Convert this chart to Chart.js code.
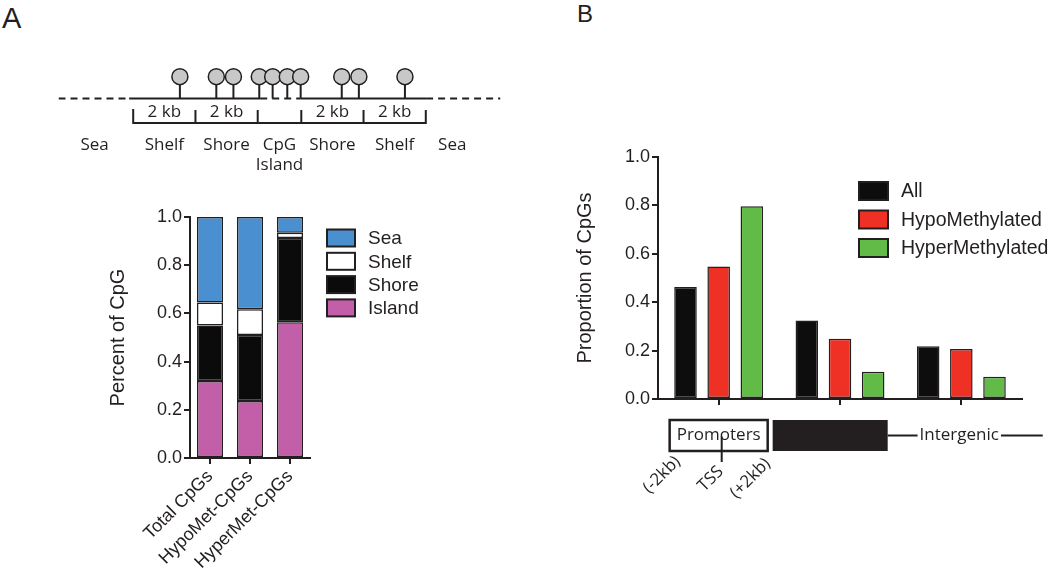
<!DOCTYPE html>
<html>
<head>
<meta charset="utf-8">
<script src="https://cdn.jsdelivr.net/npm/chart.js"></script>
<style>
  body { margin: 0; background: #fff; }
  #page { position: relative; width: 1050px; height: 574px; overflow: hidden; }
  canvas { position: absolute; }
  .panel { position: absolute; font-family: "Liberation Sans", Arial, sans-serif; line-height: 1; color: #231F20; }
</style>
</head>
<body>
<div id="page">
  <div class="panel" style="left:2px; top:4px; font-size:29px;">A</div>
  <div class="panel" style="left:577px; top:2px; font-size:24px;">B</div>
  <canvas id="cpgMap" width="461" height="123" style="left:49px; top:54px;"></canvas>
  <canvas id="regionBars" width="360" height="384" style="left:100px; top:190px;"></canvas>
  <canvas id="featureBars" width="510" height="444" style="left:540px; top:130px;"></canvas>
</div>
<script>
// Panel A map, positions in kb from the island centre
const regionNames = ["Sea", "Shelf", "Shore", ["CpG", "Island"], "Shore", "Shelf", "Sea"];
const regionCentres = [-5.94, -3.7, -1.7, 0, 1.7, 3.7, 5.55];
const regionBounds = [-4.7, -2.7, -0.7, 0.7, 2.7, 4.7];
const cpgSites = [-3.2, -2.03, -1.48, -0.65, -0.22, 0.25, 0.68, 2.0, 2.55, 4.03];
const backboneSolid = [[-4.83, -0.62], [0.68, 4.71]];
const backboneDashed = [[-7.1, -4.83], [-0.62, 0.68], [4.71, 7.1]];

// Panel A stacked bars
const cpgGroups = ["Total CpGs", "HypoMet-CpGs", "HyperMet-CpGs"];
const islandShare = [0.32, 0.237, 0.563];
const shoreShare = [0.23, 0.273, 0.35];
const shelfShare = [0.095, 0.107, 0.022];
const seaShare = [0.355, 0.383, 0.065];

// Panel B grouped bars
const featureLabels = ["Promoters", "Gene body", "Intergenic"];
const allCpGs = [0.463, 0.324, 0.218];
const hypoCpGs = [0.548, 0.249, 0.207];
const hyperCpGs = [0.797, 0.113, 0.092];

const ink = "#231F20";
Chart.defaults.animation = false;
Chart.defaults.font.family = "Liberation Sans";
Chart.defaults.color = ink;
Chart.defaults.plugins.legend.display = false;
Chart.defaults.plugins.tooltip.enabled = false;

// legend drawn next to the plot area
const boxLegend = {
    id: "boxLegend",
    afterDraw(chart, args, o) {
        const ctx = chart.ctx;
        const area = chart.chartArea;
        let sets = chart.data.datasets.slice();
        if (o.reverse) sets.reverse();
        ctx.save();
        ctx.font = o.font;
        ctx.textBaseline = "middle";
        sets.forEach((ds, i) => {
            const x = area.right + o.dx;
            const y = area.top + o.dy + i * o.step;
            ctx.fillStyle = ds.backgroundColor;
            ctx.fillRect(x, y - o.boxH / 2, o.boxW, o.boxH);
            ctx.lineWidth = 2;
            ctx.strokeStyle = ink;
            ctx.strokeRect(x, y - o.boxH / 2, o.boxW, o.boxH);
            ctx.fillStyle = ink;
            ctx.fillText(ds.label, x + o.boxW + o.gap, y + 1);
        });
        ctx.restore();
    }
};

const kbLabels = {
    id: "kbLabels",
    afterDatasetsDraw(chart, args, o) {
        const ctx = chart.ctx;
        ctx.save();
        ctx.font = o.font;
        ctx.fillStyle = ink;
        ctx.textAlign = "center";
        ctx.textBaseline = "middle";
        o.at.forEach(v => ctx.fillText(o.text, chart.scales.x.getPixelForValue(v), chart.scales.y.getPixelForValue(o.y)));
        ctx.restore();
    }
};

// promoter / gene body / intergenic track under panel B
const regionTrack = {
    id: "regionTrack",
    afterDraw(chart, args, o) {
        const ctx = chart.ctx;
        const labels = chart.data.labels;
        const px = v => chart.scales.x.getPixelForValue(v);
        const top = chart.chartArea.bottom + o.top;
        const bot = top + o.height;
        const mid = (top + bot) / 2;
        ctx.save();
        ctx.strokeStyle = ink;
        ctx.fillStyle = ink;
        ctx.lineWidth = 2.5;
        ctx.strokeRect(px(o.promoter[0]), top, px(o.promoter[1]) - px(o.promoter[0]), o.height);
        ctx.fillRect(px(o.gene[0]), top, px(o.gene[1]) - px(o.gene[0]), o.height);
        ctx.font = o.font;
        ctx.textAlign = "center";
        ctx.textBaseline = "middle";
        ctx.fillText(labels[0], px(0), mid);
        ctx.lineWidth = 2;
        ctx.beginPath();
        ctx.moveTo(px(o.tss), mid + 1);
        ctx.lineTo(px(o.tss), bot + o.stem);
        ctx.stroke();
        const w = ctx.measureText(labels[2]).width;
        const cx = px(o.interText);
        ctx.fillText(labels[2], cx, mid);
        ctx.beginPath();
        ctx.moveTo(px(o.gene[1]), mid);
        ctx.lineTo(cx - w / 2 - 2, mid);
        ctx.moveTo(cx + w / 2 + 2, mid);
        ctx.lineTo(px(o.interEnd), mid);
        ctx.stroke();
        ctx.font = o.smallFont;
        ctx.textAlign = "right";
        o.marks.forEach(m => {
            ctx.save();
            ctx.translate(px(m.at) + m.dx, bot + m.dy);
            ctx.rotate(-Math.PI / 4);
            ctx.fillText(m.text, 0, 0);
            ctx.restore();
        });
        ctx.restore();
    }
};

function segments(list, y) {
    const pts = [];
    list.forEach(([a, b]) => pts.push({x: a, y: y}, {x: b, y: y}, {x: b, y: null}));
    return pts;
}

const stems = [];
cpgSites.forEach(s => stems.push({x: s, y: 0}, {x: s, y: 1}, {x: s, y: null}));

const bracket = [];
regionBounds.forEach((b, i) => {
    bracket.push({x: b, y: -0.52}, {x: b, y: -1.12});
    if (i < regionBounds.length - 1) bracket.push({x: regionBounds[i + 1], y: -1.12});
});

const kbMids = [];
[0, 1, 3, 4].forEach(i => kbMids.push((regionBounds[i] + regionBounds[i + 1]) / 2));

const lineSet = {showLine: true, pointRadius: 0, borderColor: ink, borderWidth: 2, spanGaps: false, order: 1};

new Chart("cpgMap", {
    type: "scatter",
    data: {
        datasets: [
            {data: cpgSites.map(s => ({x: s, y: 1})), pointRadius: 8, backgroundColor: "#C8C8C9", borderColor: ink, borderWidth: 1.5, order: 0},
            Object.assign({data: stems}, lineSet),
            Object.assign({data: segments(backboneSolid, 0)}, lineSet),
            Object.assign({data: segments(backboneDashed, 0), borderDash: [7, 5]}, lineSet),
            Object.assign({data: bracket, borderCapStyle: "square"}, lineSet)
        ]
    },
    plugins: [kbLabels],
    options: {
        responsive: false,
        layout: {padding: 0},
        plugins: {
            kbLabels: {at: kbMids, y: -0.62, text: "2 kb", font: "17px 'Open Sans'"}
        },
        scales: {
            x: {
                type: "linear", min: -7.1, max: 7.1,
                grid: {display: false, drawTicks: false},
                border: {display: false},
                afterBuildTicks: s => { s.ticks = regionCentres.map(v => ({value: v})); },
                afterFit: s => { s.height = 50; },
                ticks: {
                    autoSkip: false, maxRotation: 0, padding: 8, color: ink,
                    font: {family: "Open Sans", size: 17, lineHeight: 1.2},
                    callback: (v, i) => regionNames[i]
                }
            },
            y: {display: false, min: -1.3, max: 1.6}
        }
    }
});

const axisGrid = {drawOnChartArea: false, color: ink, lineWidth: 2, tickLength: 6};

new Chart("regionBars", {
    type: "bar",
    data: {
        labels: cpgGroups,
        datasets: [
            {label: "Island", data: islandShare, backgroundColor: "#C25FA8"},
            {label: "Shore", data: shoreShare, backgroundColor: "#0B0B0B"},
            {label: "Shelf", data: shelfShare, backgroundColor: "#FFFFFF"},
            {label: "Sea", data: seaShare, backgroundColor: "#4A8FD0"}
        ]
    },
    plugins: [boxLegend],
    options: {
        responsive: false,
        datasets: {bar: {borderColor: ink, borderWidth: 1.5, borderSkipped: false, categoryPercentage: 1, barPercentage: 0.65}},
        layout: {padding: {left: 4, top: 27, right: 150, bottom: 0}},
        plugins: {
            boxLegend: {reverse: true, dx: 17, dy: 21, step: 23.3, boxW: 28, boxH: 17, gap: 13, font: "19px 'Liberation Sans'"}
        },
        scales: {
            x: {
                stacked: true,
                grid: Object.assign({offset: false}, axisGrid),
                border: {color: ink, width: 2},
                ticks: {font: {size: 18}, maxRotation: 45, minRotation: 45, padding: 2},
                afterFit: s => { s.height = 116; }
            },
            y: {
                stacked: true, min: 0, max: 1,
                grid: axisGrid,
                border: {color: ink, width: 2},
                ticks: {stepSize: 0.2, padding: 2, font: {size: 18}, callback: v => v.toFixed(1)},
                title: {display: true, text: "Percent of CpG", font: {size: 20}, padding: {top: 2, bottom: 0}},
                afterFit: s => { s.width = 86; }
            }
        }
    }
});

new Chart("featureBars", {
    type: "bar",
    data: {
        labels: featureLabels,
        datasets: [
            {label: "All", data: allCpGs, backgroundColor: "#0D0D0D"},
            {label: "HypoMethylated", data: hypoCpGs, backgroundColor: "#EE3124"},
            {label: "HyperMethylated", data: hyperCpGs, backgroundColor: "#62BB46"}
        ]
    },
    plugins: [boxLegend, regionTrack],
    options: {
        responsive: false,
        datasets: {bar: {borderColor: ink, borderWidth: 1.5, borderSkipped: false, categoryPercentage: 0.82, barPercentage: 0.68}},
        layout: {padding: {left: 31, top: 27, right: 28, bottom: 0}},
        plugins: {
            boxLegend: {dx: -163, dy: 34, step: 28.5, boxW: 29, boxH: 18, gap: 13, font: "19.5px 'Liberation Sans'"},
            regionTrack: {
                top: 21, height: 31, stem: 11,
                promoter: [-0.404, 0.404], gene: [0.445, 1.393], tss: 0.025,
                interText: 1.983, interEnd: 2.671,
                font: "17px 'Open Sans'", smallFont: "17px 'Open Sans'",
                marks: [
                    {text: "(-2kb)", at: -0.404, dx: 8, dy: 8},
                    {text: "TSS", at: 0.025, dx: -1, dy: 18},
                    {text: "(+2kb)", at: 0.404, dx: 0, dy: 10}
                ]
            }
        },
        scales: {
            x: {
                grid: Object.assign({offset: false}, axisGrid),
                border: {color: ink, width: 2},
                ticks: {display: false},
                afterFit: s => { s.height = 175; }
            },
            y: {
                min: 0, max: 1,
                grid: axisGrid,
                border: {color: ink, width: 2},
                ticks: {stepSize: 0.2, padding: 2, font: {size: 18}, callback: v => v.toFixed(1)},
                title: {display: true, text: "Proportion of CpGs", font: {size: 20}, padding: {top: 2, bottom: 0}},
                afterFit: s => { s.width = 87; }
            }
        }
    }
});
</script>
</body>
</html>
